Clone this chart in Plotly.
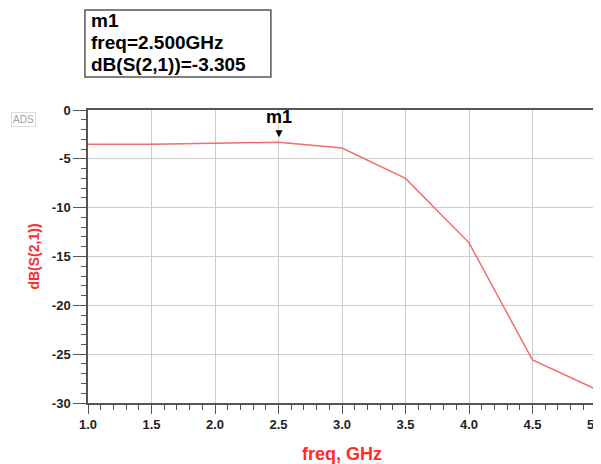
import plotly.graph_objects as go

freq = [1.0, 1.5, 2.0, 2.5, 3.0, 3.5, 4.0, 4.5, 5.0]
s21_db = [-3.5, -3.5, -3.4, -3.305, -3.9, -7.0, -13.6, -25.6, -28.6]
x_ticks = [1.0, 1.5, 2.0, 2.5, 3.0, 3.5, 4.0, 4.5, 5.0]
x_tick_text = ["1.0", "1.5", "2.0", "2.5", "3.0", "3.5", "4.0", "4.5", "5.0"]
y_ticks = [0, -5, -10, -15, -20, -25, -30]
y_tick_text = ["0", "-5", "-10", "-15", "-20", "-25", "-30"]
marker_freq = 2.5
marker_val = -3.305
marker_lines = ["m1", "freq=2.500GHz", "dB(S(2,1))=-3.305"]

fig = go.Figure()
fig.add_trace(go.Scatter(x=freq, y=s21_db, mode="lines",
                         line=dict(color="#f26d6d", width=1.5), showlegend=False,
                         hoverinfo="skip"))

fig.add_annotation(x=marker_freq, y=marker_val, text="▼", showarrow=False,
                   yanchor="bottom", yshift=-1, font=dict(size=12, color="black"))
fig.add_annotation(x=marker_freq, y=marker_val, text="<b>m1</b>", showarrow=False,
                   yanchor="bottom", yshift=13, font=dict(size=18, color="black", family="Arial"))

# marker readout box
fig.add_shape(type="rect", xref="paper", yref="paper", x0=-0.006, x1=0.360,
              y0=1.1126, y1=1.341, line=dict(color="#555555", width=1.5))
for txt, yy in zip(marker_lines, [1.304, 1.229, 1.154]):
    fig.add_annotation(xref="paper", yref="paper", x=0.002, y=yy, xanchor="left",
                       yanchor="middle", text="<b>%s</b>" % txt, showarrow=False,
                       font=dict(size=19, color="black", family="Arial"))

fig.add_annotation(xref="paper", yref="paper", x=-0.126, y=0.969, xanchor="center",
                   yanchor="middle", text="ADS", showarrow=False,
                   bordercolor="#dddddd", borderwidth=1, borderpad=1,
                   font=dict(size=10, color="#a0a0a0", family="Arial"))

axis_common = dict(showline=True, linecolor="#555555", linewidth=1.5, mirror=True,
                   showgrid=True, gridcolor="#cccccc", gridwidth=1.2, zeroline=False,
                   ticks="outside", tickcolor="#555555", automargin=False,
                   ticklabeloverflow="allow",
                   tickfont=dict(size=13, color="#222222", family="Arial", weight="bold"))

fig.update_xaxes(range=[1.0, 5.0], tickvals=x_ticks, ticktext=x_tick_text, ticklen=9,
                 title=dict(text="<b>freq, GHz</b>", font=dict(size=18, color="#ff2a2a", family="Arial"),
                            standoff=16),
                 minor=dict(dtick=0.1, ticks="outside", ticklen=5, tickcolor="#555555", showgrid=False),
                 **axis_common)
fig.update_yaxes(range=[-30, 0], tickvals=y_ticks, ticktext=y_tick_text, ticklen=13,
                 title=dict(text="<b>dB(S(2,1))</b>", font=dict(size=14, color="#ff2a2a", family="Arial"),
                            standoff=9),
                 minor=dict(dtick=1, ticks="outside", ticklen=5, tickcolor="#555555", showgrid=False),
                 **axis_common)

# page body adds an 8px offset; compensate so the plot area lands where the reference has it
fig.update_layout(width=593, height=456, margin=dict(l=80, r=5, t=102, b=61),
                  plot_bgcolor="white", paper_bgcolor="white")

fig.write_html("out.html")
